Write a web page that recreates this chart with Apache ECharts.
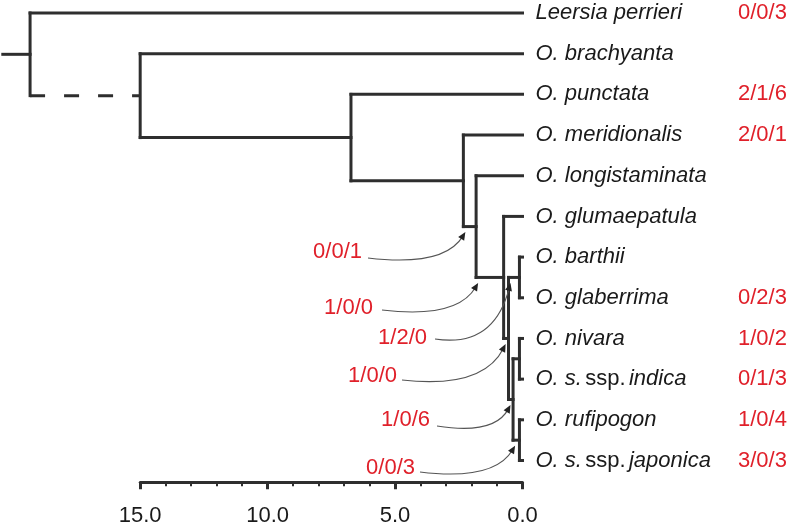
<!DOCTYPE html>
<html><head><meta charset="utf-8">
<script src="https://cdn.jsdelivr.net/npm/echarts@6/dist/echarts.min.js"></script>
<style>html,body{margin:0;padding:0;background:#fff}#c{width:788px;height:526px}</style>
</head><body><div id="c"></div>
<script>
// ---- data ----
const taxa = ['Leersia perrieri','O. brachyanta','O. punctata','O. meridionalis','O. longistaminata','O. glumaepatula','O. barthii','O. glaberrima','O. nivara','O. s. ssp. indica','O. rufipogon','O. s. ssp. japonica'];
const tipCounts = ['0/0/3','','2/1/6','2/0/1','','','','0/2/3','1/0/2','0/1/3','1/0/4','3/0/3'];
const nodeNames = ['root','n15','nPun','nMer','nLon','nA','nB','nC','nD','nE','nF'];
const nodeAges = [19.32, 15.0, 6.73, 2.32, 1.82, 0.74, 0.55, 0.12, 0.37, 0.12, 0.12];
const nodeChildren = [['t0','n15'],['t1','nPun'],['t2','nMer'],['t3','nLon'],['t4','nA'],['t5','nB'],['nC','nD'],['t6','t7'],['nE','nF'],['t8','t9'],['t10','t11']];
const rootStemAge = 20.39;
const dashedBranch = 'n15';
const annoLabels = ['0/0/1','1/0/0','1/2/0','1/0/0','1/0/6','0/0/3'];
const annoBranch = ['nLon','nA','nC','nB','nD','nF'];

// ---- layout (pixels) ----
const annoLayout = [ // label right x, label center y, curve start x, curve start y
  [362, 252, 368, 258],
  [373, 308, 382, 310],
  [427, 338, 435, 339],
  [397, 376, 402, 380],
  [430, 420, 437, 426],
  [415, 468, 420, 472]
];
const FONT = '"Liberation Sans", Arial, Helvetica, sans-serif';
const RED = '#e0202a';
const LINE = '#2e2e2e';

// ---- tree geometry ----
const tipIndex = {}; taxa.forEach((t,i)=>tipIndex['t'+i]=i);
const nodeIdx = {}; nodeNames.forEach((n,i)=>nodeIdx[n]=i);
function info(id){
  if (tipIndex[id] !== undefined) return {age:0, row:tipIndex[id]};
  const k = nodeIdx[id]; const ch = nodeChildren[k];
  const a = info(ch[0]), b = info(ch[1]);
  return {age:nodeAges[k], row:(a.row+b.row)/2};
}
const segs = [];
const r0 = info('root');
segs.push([rootStemAge, r0.row, nodeAges[0], r0.row, 0]);
nodeNames.forEach((n,k)=>{
  const ch = nodeChildren[k]; const a = info(ch[0]), b = info(ch[1]);
  segs.push([nodeAges[k], a.row, nodeAges[k], b.row, 0]);
  ch.forEach(c=>{ const ci = info(c); segs.push([nodeAges[k], ci.row, ci.age, ci.row, c===dashedBranch?1:0]); });
});
function parentOf(id){ for (let k=0;k<nodeChildren.length;k++) if (nodeChildren[k].includes(id)) return k; return -1; }
const annoData = annoBranch.map((b,i)=>{ const p = parentOf(b); const ci = info(b); return [nodeAges[p], ci.row, i]; });

function nameRich(n){
  const parts = n.split(' ssp. ');
  if (parts.length === 2) return '{i|'+parts[0]+'} {n|ssp.} {i|'+parts[1]+'}';
  return '{i|'+n+'}';
}

const chart = echarts.init(document.getElementById('c'));
chart.setOption({
  animation:false,
  backgroundColor:'#fff',
  grid:[
    {left:0, right:265.5, top:13, height:447.5},
    {left:140.2, right:265.5, top:482, height:1}
  ],
  xAxis:[
    {gridIndex:0, type:'value', min:0, max:20.5, inverse:true, show:false},
    {gridIndex:1, type:'value', min:0, max:15, interval:5, inverse:true, position:'bottom',
     axisLine:{show:true, lineStyle:{color:LINE, width:3}},
     axisTick:{show:true, length:7, lineStyle:{color:LINE, width:3}},
     minorTick:{show:true, splitNumber:5, length:4, lineStyle:{color:LINE, width:2}},
     splitLine:{show:false},
     axisLabel:{show:true, margin:23, fontSize:22, fontFamily:FONT, color:'#1a1a1a', formatter:v=>v.toFixed(1)}}
  ],
  yAxis:[
    {gridIndex:0, type:'value', min:0, max:11, inverse:true, show:false},
    {gridIndex:1, type:'value', min:0, max:1, show:false}
  ],
  series:[
    {
      type:'custom', xAxisIndex:0, yAxisIndex:0, clip:false,
      dimensions:['x1','y1','x2','y2','d'], encode:{x:[0,2], y:[1,3]},
      data:segs,
      renderItem(params, api){
        const p1 = api.coord([api.value(0), api.value(1)]);
        const p2 = api.coord([api.value(2), api.value(3)]);
        const dashed = api.value(4) === 1;
        return {type:'line', shape:{x1:p1[0], y1:p1[1], x2:p2[0], y2:p2[1]},
          style:{stroke:LINE, lineWidth:3, lineDash: dashed ? [15,19] : null, lineCap: dashed ? 'butt' : 'square'}};
      }
    },
    {
      type:'custom', xAxisIndex:0, yAxisIndex:0, clip:false,
      data: taxa.map((t,i)=>[0,i]),
      renderItem(params, api){
        const i = params.dataIndex;
        const p = api.coord([api.value(0), api.value(1)]);
        const base = {fontSize:22, fontFamily:FONT, fill:'#1a1a1a'};
        const children = [{
          type:'text', x:p[0]+13, y:p[1],
          style:{text:nameRich(taxa[i]), align:'left', verticalAlign:'middle',
            rich:{i:Object.assign({fontStyle:'italic'}, base), n:Object.assign({}, base)}}
        }];
        if (tipCounts[i]) children.push({
          type:'text', x:p[0]+215.5, y:p[1],
          style:{text:tipCounts[i], align:'left', verticalAlign:'middle', fontSize:22, fontFamily:FONT, fill:RED}
        });
        return {type:'group', children};
      }
    },
    {
      type:'custom', xAxisIndex:0, yAxisIndex:0, clip:false,
      data: annoData,
      renderItem(params, api){
        const i = api.value(2);
        const p = api.coord([api.value(0), api.value(1)]);
        const tip = [p[0]+2, p[1]+5.5];
        const L = annoLayout[i];
        const s = [L[2], L[3]];
        const c = [s[0] + 0.78*(tip[0]-s[0]), s[1] + 9];
        const dx = tip[0]-c[0], dy = tip[1]-c[1], len = Math.hypot(dx,dy);
        const ux = dx/len, uy = dy/len;
        const ah = 8, aw = 3.5;
        const bx = tip[0]-ux*ah, by = tip[1]-uy*ah;
        const end = [tip[0]-ux*5, tip[1]-uy*5];
        return {type:'group', children:[
          {type:'text', x:L[0], y:L[1], style:{text:annoLabels[i], align:'right', verticalAlign:'middle', fontSize:22, fontFamily:FONT, fill:RED}},
          {type:'bezierCurve', shape:{x1:s[0], y1:s[1], x2:end[0], y2:end[1], cpx1:c[0], cpy1:c[1]},
            style:{stroke:'#555', lineWidth:1.1, fill:null}},
          {type:'polygon', shape:{points:[[tip[0],tip[1]],[bx - uy*aw, by + ux*aw],[bx + uy*aw, by - ux*aw]]},
            style:{fill:'#222'}}
        ]};
      }
    },
    {type:'line', xAxisIndex:1, yAxisIndex:1, data:[], silent:true}
  ]
});
</script></body></html>
